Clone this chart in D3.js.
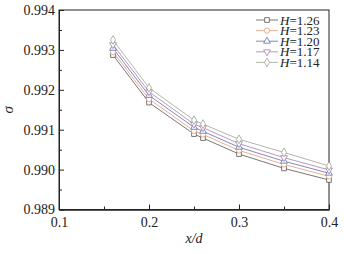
<!DOCTYPE html>
<html>
<head>
<meta charset="utf-8">
<script src="https://cdn.jsdelivr.net/npm/d3@7"></script>
<style>
  body { margin: 0; background: #fff; }
  text { font-family: "Liberation Serif", "Times New Roman", serif; fill: #222; }
</style>
</head>
<body>
<script>
var xValues = [0.16, 0.2, 0.25, 0.26, 0.3, 0.35, 0.4];
var h126 = [0.99287, 0.99168, 0.99089, 0.99079, 0.99039, 0.99003, 0.98974];
var h123 = [0.99295, 0.99177, 0.99097, 0.99088, 0.99048, 0.99013, 0.98983];
var h120 = [0.99304, 0.99186, 0.99106, 0.99096, 0.99056, 0.99021, 0.98991];
var h117 = [0.99313, 0.99195, 0.99114, 0.99105, 0.99065, 0.99030, 0.98999];
var h114 = [0.99325, 0.99205, 0.99124, 0.99114, 0.99076, 0.99043, 0.99009];
var seriesNames = ["H=1.26", "H=1.23", "H=1.20", "H=1.17", "H=1.14"];
var xTicks = [0.1, 0.2, 0.3, 0.4];
var yTicks = [0.989, 0.990, 0.991, 0.992, 0.993, 0.994];

var series = [
  {name: seriesNames[0], values: h126, color: "#555555", shape: "square"},
  {name: seriesNames[1], values: h123, color: "#e59a78", shape: "circle"},
  {name: seriesNames[2], values: h120, color: "#5d6fa8", shape: "triangle"},
  {name: seriesNames[3], values: h117, color: "#a77cb4", shape: "triangleDown"},
  {name: seriesNames[4], values: h114, color: "#9aa690", shape: "diamond"}
];

var width = 344, height = 254;
var plotL = 59, plotR = 329, plotT = 10, plotB = 209.5;

var x = d3.scaleLinear().domain([0.1, 0.4]).range([plotL, plotR]);
var y = d3.scaleLinear().domain([0.989, 0.994]).range([plotB, plotT]);

var svg = d3.select("body").append("svg")
    .attr("width", width)
    .attr("height", height);

// frame
svg.append("rect")
    .attr("x", plotL).attr("y", plotT)
    .attr("width", plotR - plotL).attr("height", plotB - plotT)
    .attr("fill", "none").attr("stroke", "#222").attr("stroke-width", 1);

// axes with inward ticks
var xAxis = d3.axisBottom(x).tickValues(xTicks).tickFormat(d3.format(".1f"))
    .tickSizeInner(-5).tickSizeOuter(0).tickPadding(8);
var gx = svg.append("g").attr("transform", "translate(0," + plotB + ")").call(xAxis);
var gxm = svg.append("g").attr("transform", "translate(0," + plotB + ")")
    .call(d3.axisBottom(x).tickValues([0.15, 0.25, 0.35]).tickFormat("").tickSizeInner(-3).tickSizeOuter(0));

var yAxis = d3.axisLeft(y).tickValues(yTicks).tickFormat(d3.format(".3f"))
    .tickSizeInner(-5).tickSizeOuter(0).tickPadding(4);
var gy = svg.append("g").attr("transform", "translate(" + plotL + ",0)").call(yAxis);
var gym = svg.append("g").attr("transform", "translate(" + plotL + ",0)")
    .call(d3.axisLeft(y).tickValues([0.9895, 0.9905, 0.9915, 0.9925, 0.9935]).tickFormat("").tickSizeInner(-3).tickSizeOuter(0));

[gx, gxm, gy, gym].forEach(function(g) {
  g.select(".domain").attr("stroke", "#222");
  g.selectAll(".tick line").attr("stroke", "#222");
});
gx.selectAll("text").attr("font-size", 14).attr("fill", "#222")
    .attr("font-family", "Liberation Serif");
gy.selectAll("text").attr("font-size", 14).attr("fill", "#222")
    .attr("font-family", "Liberation Serif");

// axis titles
svg.append("text")
    .attr("transform", "translate(13," + ((plotT + plotB) / 2) + ") rotate(-90)")
    .attr("text-anchor", "middle")
    .attr("font-size", 15).attr("font-style", "italic")
    .text("σ");
svg.append("text")
    .attr("x", (plotL + plotR) / 2).attr("y", 243)
    .attr("text-anchor", "middle")
    .attr("font-size", 14).attr("font-style", "italic")
    .text("x/d");

function marker(g, shape, color) {
  var s;
  if (shape === "square") s = d3.symbol(d3.symbolSquare, 22);
  else if (shape === "circle") s = d3.symbol(d3.symbolCircle, 22);
  else if (shape === "triangle") s = d3.symbol(d3.symbolTriangle, 20);
  else if (shape === "triangleDown") s = d3.symbol(d3.symbolTriangle, 20);
  else s = d3.symbol(d3.symbolDiamond, 22);
  var p = g.append("path").attr("d", s())
      .attr("fill", "white").attr("stroke", color).attr("stroke-width", 0.8);
  if (shape === "triangleDown") p.attr("transform", "rotate(180)");
  return p;
}

var line = d3.line()
    .x(function(d, i) { return x(xValues[i]); })
    .y(function(d) { return y(d); });

series.forEach(function(s) {
  svg.append("path")
      .attr("d", line(s.values))
      .attr("fill", "none")
      .attr("stroke", s.color)
      .attr("stroke-width", 0.8);
});
series.forEach(function(s) {
  s.values.forEach(function(v, i) {
    var g = svg.append("g").attr("transform", "translate(" + x(xValues[i]) + "," + y(v) + ")");
    marker(g, s.shape, s.color);
  });
});

// legend
var legend = svg.append("g");
series.forEach(function(s, i) {
  var ly = 20 + i * 10.6;
  var g = legend.append("g").attr("transform", "translate(0," + ly + ")");
  g.append("line").attr("x1", 256).attr("x2", 278).attr("y1", 0).attr("y2", 0)
      .attr("stroke", s.color).attr("stroke-width", 0.8);
  var m = g.append("g").attr("transform", "translate(267,0)");
  marker(m, s.shape, s.color);
  var t = g.append("text").attr("x", 280).attr("y", 4.5).attr("font-size", 13);
  t.append("tspan").attr("font-style", "italic").text(s.name.split("=")[0]);
  t.append("tspan").text("=" + s.name.split("=")[1]);
});
</script>
</body>
</html>
